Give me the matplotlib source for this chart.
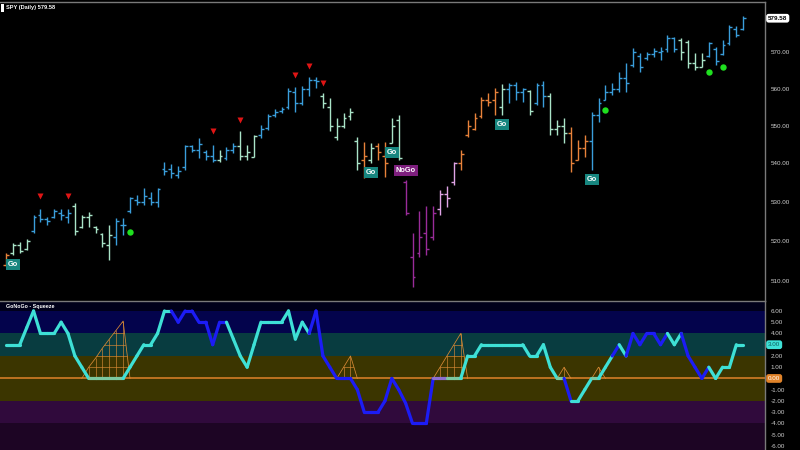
import matplotlib
matplotlib.use('Agg')
import matplotlib.pyplot as plt
import matplotlib.transforms as mtrans
from matplotlib.collections import LineCollection
from matplotlib.patches import Polygon, Rectangle
from matplotlib.ticker import FixedLocator, NullLocator, FormatStrFormatter

plt.rcParams['font.family'] = ['Liberation Sans', 'DejaVu Sans']

# SPY daily OHLC
opens = [514.0, 517.0, 519.0, 518.0, 522.5, 526.5, 525.5, 526.0, 527.0, 526.0,
         529.0, 523.5, 526.0, 523.5, 521.8, 519.0, 521.0, 524.0, 527.5, 530.5,
         530.0, 531.0, 530.0, 538.5, 538.5, 537.0, 539.0, 544.5, 543.5, 543.0,
         542.0, 541.0, 541.5, 543.5, 544.5, 542.0, 541.8, 547.5, 549.5, 553.0,
         554.0, 555.0, 559.0, 556.0, 560.0, 562.5, 558.0, 555.0, 547.0, 550.0,
         552.5, 546.0, 541.0, 541.0, 544.5, 542.0, 545.5, 551.5, 535.0, 516.0,
         517.0, 522.0, 521.0, 528.0, 532.0, 535.0, 540.0, 547.5, 549.0, 552.5,
         557.0, 557.0, 555.0, 560.0, 561.0, 559.0, 559.5, 556.0, 561.0, 558.0,
         549.0, 550.0, 548.0, 541.0, 544.0, 546.0, 553.0, 557.0, 559.0, 560.0,
         563.0, 566.5, 569.0, 568.5, 569.5, 570.0, 571.0, 574.0, 573.5, 573.0,
         567.0, 566.0, 569.0, 571.0, 569.5, 572.5, 576.5, 576.5]
highs = [516.9, 519.5, 519.7, 520.4, 526.6, 528.1, 526.1, 528.1, 528.1, 528.1,
         529.7, 526.6, 527.4, 523.8, 522.0, 524.1, 525.8, 525.8, 531.2, 531.8,
         533.6, 532.6, 533.6, 540.4, 539.9, 539.3, 544.9, 544.9, 546.7, 543.6,
         544.9, 543.6, 544.4, 545.4, 548.6, 544.9, 547.6, 550.2, 553.2, 554.5,
         555.1, 560.2, 560.5, 560.8, 563.3, 563.3, 558.8, 557.5, 552.1, 553.5,
         554.8, 547.0, 545.7, 545.4, 545.4, 545.7, 552.1, 552.9, 535.7, 522.0,
         527.6, 528.9, 528.9, 533.1, 534.1, 540.4, 543.6, 551.6, 553.5, 557.8,
         558.9, 560.2, 561.3, 561.6, 561.9, 560.2, 559.7, 561.6, 562.2, 558.9,
         551.6, 552.1, 549.7, 546.2, 547.6, 553.8, 557.5, 561.1, 561.6, 564.7,
         567.1, 571.3, 569.9, 570.2, 571.3, 571.6, 574.9, 574.4, 574.1, 573.5,
         569.9, 569.9, 573.0, 571.6, 573.5, 577.8, 577.3, 580.3]
lows = [513.7, 516.5, 517.0, 517.7, 522.0, 524.8, 524.1, 525.8, 525.3, 524.6,
        521.5, 523.3, 523.5, 522.0, 518.3, 515.2, 519.0, 521.5, 527.1, 529.2,
        529.2, 529.2, 528.7, 537.0, 536.2, 536.2, 538.3, 543.1, 541.5, 540.9,
        540.4, 540.4, 540.9, 542.8, 540.9, 540.9, 541.7, 546.7, 548.9, 552.4,
        553.5, 554.5, 553.8, 555.6, 558.0, 560.3, 554.7, 548.6, 546.2, 549.5,
        551.6, 538.3, 536.2, 540.1, 540.9, 536.5, 545.4, 540.9, 526.6, 508.5,
        516.0, 516.5, 520.2, 526.6, 528.7, 534.4, 538.3, 547.0, 548.9, 552.1,
        555.3, 552.9, 552.9, 556.2, 557.0, 556.5, 552.9, 555.6, 555.1, 547.6,
        547.6, 545.4, 537.8, 540.9, 541.7, 538.3, 551.0, 557.0, 558.4, 559.0,
        559.2, 566.0, 564.7, 568.0, 568.8, 568.0, 570.0, 570.0, 568.0, 565.7,
        565.2, 566.0, 568.8, 566.6, 569.4, 572.1, 574.3, 576.3]
closes = [516.5, 518.8, 517.5, 520.0, 526.0, 525.5, 525.0, 527.5, 526.5, 527.0,
          522.5, 526.0, 526.5, 523.0, 519.5, 521.5, 525.0, 524.0, 531.0, 530.0,
          531.5, 530.0, 533.3, 538.0, 537.5, 538.0, 544.5, 543.5, 545.0, 542.0,
          541.0, 542.0, 543.5, 544.5, 542.0, 543.0, 547.3, 549.0, 552.5, 553.8,
          554.5, 559.5, 556.0, 560.0, 562.5, 562.0, 556.0, 550.0, 550.0, 552.0,
          553.8, 540.0, 542.0, 544.0, 543.0, 540.0, 550.0, 541.5, 527.0, 511.0,
          521.0, 518.0, 527.0, 532.0, 531.0, 540.0, 542.5, 550.0, 552.0, 557.0,
          556.5, 559.0, 560.0, 561.0, 559.0, 560.0, 554.0, 561.0, 558.0, 549.0,
          550.0, 548.0, 540.0, 544.0, 546.0, 553.0, 556.0, 559.0, 560.0, 563.0,
          561.5, 570.0, 566.0, 569.5, 570.5, 570.5, 574.0, 571.0, 570.0, 567.0,
          566.0, 568.0, 572.5, 567.5, 572.0, 577.0, 575.0, 579.58]
# b strong go, p weak go, o go fading, m strong nogo, k weak nogo
bar_state = ('opppbbbbbbppppppbbbbbbbbbbbbbbbpbbppp'
             'bbbbbbbbbppppppopoopp'
             'mmmmmkkkoooooopbbbpbbpppooo'
             'bbbbbbbbbbbbbppppbbbbbb')

go_idx = [1, 53, 56, 72, 85]
nogo_idx = [58]
warn_idx = [5, 9, 30, 34, 42, 44, 46]
warn_price = [531.5, 531.5, 548.6, 551.6, 563.8, 566.3, 561.6]
dot_idx = [18, 87, 102, 104]
dot_price = [522.2, 554.3, 564.6, 566.0]

# GoNoGo squeeze oscillator
osc = [3, 3, 3, 4.5, 6, 4, 4, 4, 5, 4, 2, 1, 0, 0, 0, 0, 0, 0, 1, 2,
       3, 3, 4, 6, 6, 5, 6, 6, 5, 5, 3, 5, 5, 3.5, 2, 1, 3, 5, 5, 5,
       5, 6, 3.5, 5, 4, 6, 2, 1, 0, 0, 0, -1, -3, -3, -3, -2, 0, -1, -2.2, -4,
       -4, -4, 0, 0, 0, 0, 0, 2, 2, 3, 3, 3, 3, 3, 3, 3, 2, 2, 3, 1,
       0, 0, -2, -2, -1, 0, 0, 1, 2, 3, 2, 4, 3, 4, 4, 3, 4, 3, 4, 2,
       1, 0, 1, 0, 1, 1, 3, 3]
# colour of the segment ending at each bar: c cyan, b blue, g squeeze, l lavender
osc_state = ('c' * 13 + 'g' * 5 + 'c' * 7 + 'b' * 8 + 'c' * 12 + 'b' * 18
             + 'l' * 2 + 'g' * 2 + 'c' * 14 + 'g' + 'b' + 'c' * 3 + 'g'
             + 'c' * 2 + 'b' + 'c' + 'b' * 6 + 'c' * 2 + 'b' * 4 + 'c' * 5)
squeeze = [0] * len(osc)
for k, h in zip([12, 13, 14, 15, 16, 17, 49, 50, 63, 64, 65, 66, 81, 86],
                [1.0, 1.8, 2.7, 3.5, 4.3, 5.1, 1, 2, 1, 2, 3, 4, 1, 1]):
    squeeze[k] = h

bar_colors = {'b': '#3a9edb', 'p': '#a9e4c8', 'o': '#e8823a',
              'm': '#9a2c9a', 'k': '#e0a4e6'}
osc_colors = {'c': '#3ee0d6', 'b': '#1c1cf5', 'g': '#7cc9a0', 'l': '#8c6fd0'}
grid_gray = '#7a7a7a'
label_gray = '#cfcfcf'

W, H = 800, 450
fig = plt.figure(figsize=(8, 4.5), dpi=100, facecolor='black')
right = 765 / W
sep = 300.5
ax = fig.add_axes([0, 1 - sep / H, right, (sep - 1.7) / H])
ax2 = fig.add_axes([0, 0, right, 1 - sep / H])

n = len(closes)
xl = (-0.87, 110.16)

# ---- price panel ----
ax.set_facecolor('black')
ax.set_yscale('log')
ax.set_xlim(*xl)
ax.set_ylim(505.07, 584.27)
for i in range(n):
    c = bar_colors[bar_state[i]]
    ax.vlines(i, lows[i], highs[i], color=c, lw=1.0)
    ax.hlines(opens[i], i - 0.42, i, color=c, lw=1.0)
    ax.hlines(closes[i], i, i + 0.42, color=c, lw=1.0)

ax.plot(warn_idx, warn_price, 'v', color='#e01515', ms=5, mec='none')
ax.plot(dot_idx, dot_price, 'o', color='#1fe01f', ms=4.6, mec='none')

for i in go_idx:
    ax.annotate('Go', (i, lows[i]), xytext=(0, -4.5), textcoords='offset points',
                ha='center', va='top', fontsize=5.3, fontweight='bold', color='white',
                bbox=dict(boxstyle='square,pad=0.25', fc='#17867f', ec='none'), zorder=5)
for i in nogo_idx:
    ax.annotate('NoGo', (i, highs[i]), xytext=(0, 4), textcoords='offset points',
                ha='center', va='bottom', fontsize=5.3, fontweight='bold', color='white',
                bbox=dict(boxstyle='square,pad=0.25', fc='#7e1f7e', ec='none'), zorder=5)

ax.yaxis.tick_right()
ax.yaxis.set_major_locator(FixedLocator([510, 520, 530, 540, 550, 560, 570]))
ax.yaxis.set_minor_locator(NullLocator())
ax.yaxis.set_major_formatter(FormatStrFormatter('%.2f'))
ax.tick_params(axis='y', length=0, pad=4, labelsize=4.5, labelcolor=label_gray)
ax.set_xticks([])
for s in ['left', 'bottom']:
    ax.spines[s].set_visible(False)
for s in ['top', 'right']:
    ax.spines[s].set_color(grid_gray)
    ax.spines[s].set_linewidth(1)

trp = mtrans.blended_transform_factory(ax.transAxes, ax.transData)
ax.text(1.004, closes[-1], f'{closes[-1]:.2f}', transform=trp, ha='left', va='center',
        fontsize=4.5, fontweight='bold', color='black', clip_on=False,
        bbox=dict(boxstyle='round,pad=0.3,rounding_size=0.4', fc='white', ec='none'))

fig.text(6 / W, 1 - 8 / H, f'SPY (Daily) {closes[-1]:.2f}', ha='left', va='center',
         fontsize=4.1, fontweight='bold', color='white')
fig.patches.append(Rectangle((1 / W, 1 - 12 / H), 2.5 / W, 8 / H, transform=fig.transFigure,
                             fc='white', ec='none'))

# ---- squeeze panel ----
ax2.set_facecolor('black')
ax2.set_xlim(*xl)
ax2.set_ylim(-6.36, 6.93)
bands = [(6, 7, '#00001a'), (4, 6, '#03034c'), (2, 4, '#083c40'),
         (-2, 2, '#3b3500'), (-4, -2, '#300a3c'), (-7, -4, '#1d0524')]
for lo, hi, c in bands:
    ax2.axhspan(lo, hi, color=c, lw=0)
ax2.axhline(0, color='#e0832a', lw=1.1, zorder=2)

sq_color = '#d98a35'
i = 0
while i < n:
    if squeeze[i] > 0:
        j = i
        while j + 1 < n and squeeze[j + 1] > 0:
            j += 1
        xs = [i - 1] + list(range(i, j + 1)) + [j + 1]
        ys = [0] + squeeze[i:j + 1] + [0]
        poly = Polygon(list(zip(xs, ys)), closed=True, fill=False, ec='none')
        ax2.add_patch(poly)
        ax2.plot(xs, ys, color=sq_color, lw=0.55, zorder=3)
        ax2.vlines(range(i, j + 1), 0, squeeze[i:j + 1], color=sq_color, lw=0.45, zorder=3)
        lev = 1
        while lev < max(squeeze[i:j + 1]):
            ln, = ax2.plot([i - 1, j + 1], [lev, lev], color=sq_color, lw=0.45, zorder=3)
            ln.set_clip_path(poly)
            lev += 1
        i = j + 1
    else:
        i += 1

segs = [[(k - 1, osc[k - 1]), (k, osc[k])] for k in range(1, n)]
cols = [osc_colors[osc_state[k]] for k in range(1, n)]
ax2.add_collection(LineCollection(segs, colors=cols, linewidths=2.3,
                                  capstyle='round', joinstyle='round', zorder=4))

# the boxed current values replace the plain labels at those levels
osc_ticks = [v for v in range(-6, 7) if v not in (0, osc[-1])]
ax2.yaxis.tick_right()
ax2.yaxis.set_major_locator(FixedLocator(osc_ticks))
ax2.yaxis.set_major_formatter(FormatStrFormatter('%.2f'))
ax2.tick_params(axis='y', length=0, pad=4, labelsize=4.5, labelcolor=label_gray)
ax2.set_xticks([])
for s in ['left', 'bottom']:
    ax2.spines[s].set_visible(False)
for s in ['top', 'right']:
    ax2.spines[s].set_color(grid_gray)
    ax2.spines[s].set_linewidth(1)

tr2 = mtrans.blended_transform_factory(ax2.transAxes, ax2.transData)
ax2.text(1.004, osc[-1], f'{osc[-1]:.2f}', transform=tr2, ha='left', va='center',
         fontsize=4.5, color='#0b5a5a', clip_on=False, zorder=6,
         bbox=dict(boxstyle='round,pad=0.3,rounding_size=0.4', fc='#3ee0d6', ec='none'))
ax2.text(1.004, 0, f'{0:.2f}', transform=tr2, ha='left', va='center',
         fontsize=4.5, color='white', clip_on=False, zorder=6,
         bbox=dict(boxstyle='round,pad=0.3,rounding_size=0.4', fc='#e0832a', ec='none'))
ax2.text(6 / 765, 0.962, 'GoNoGo - Squeeze', transform=ax2.transAxes, ha='left', va='center',
         fontsize=3.8, fontweight='bold', color='white')

fig.savefig('out.png', dpi=100, facecolor='black')
